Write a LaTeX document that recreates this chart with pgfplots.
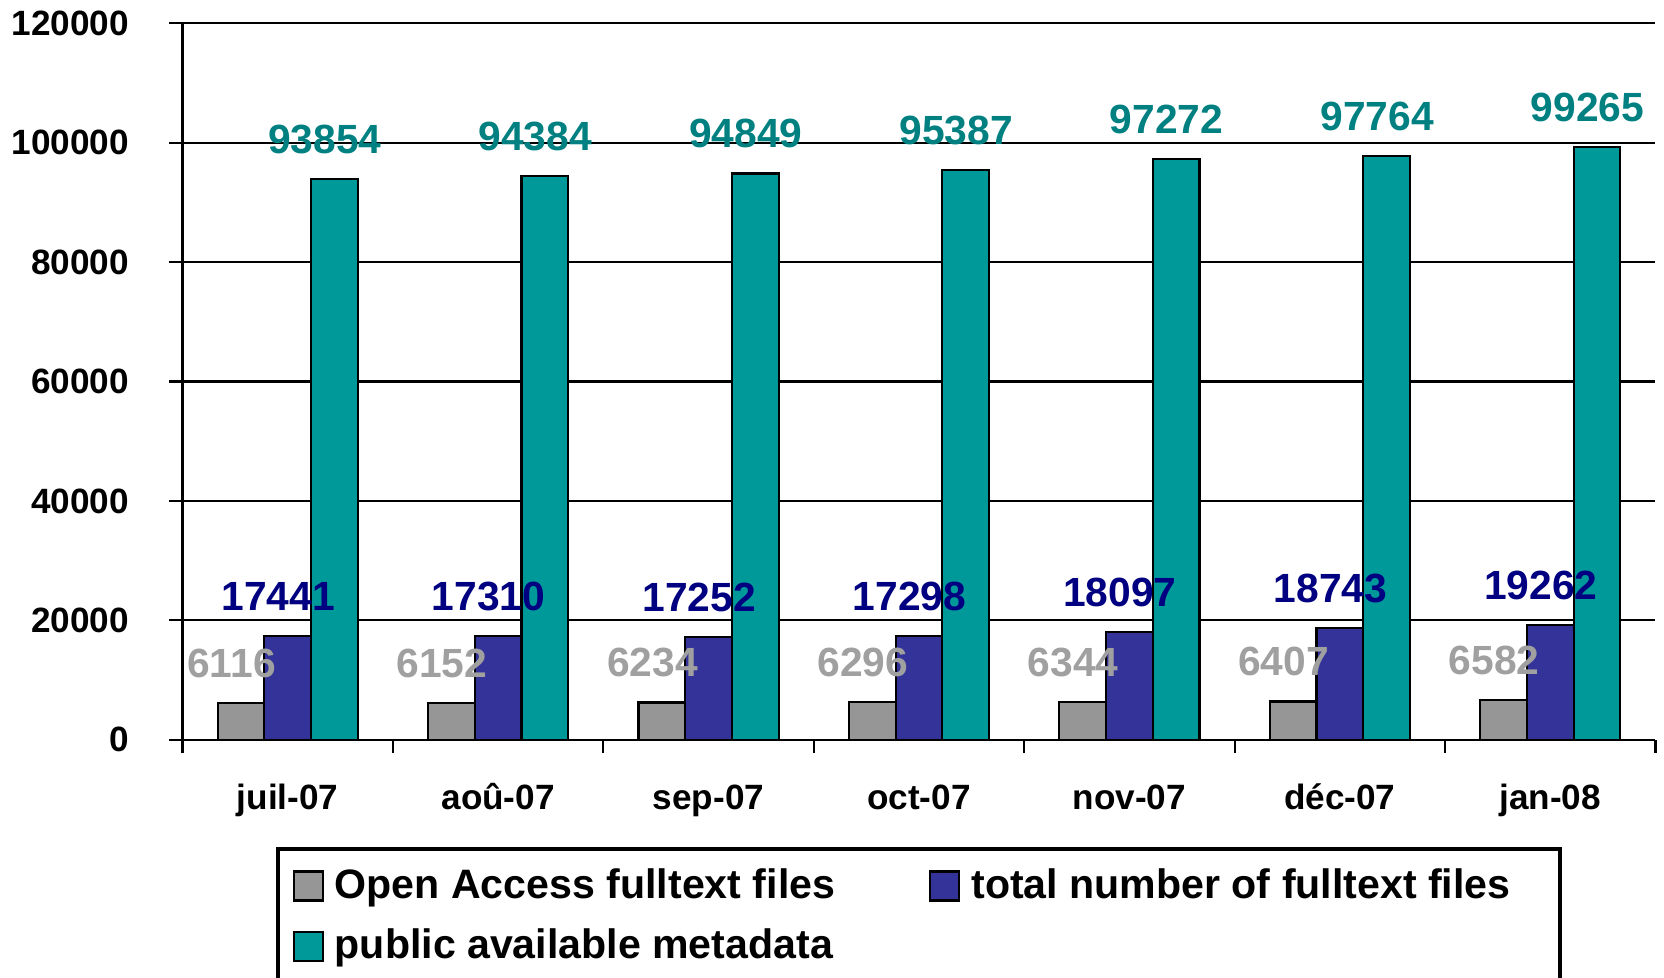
\documentclass[border=0pt]{standalone}
\usepackage{fontspec}
\setmainfont{Liberation Sans}
\usepackage{pgfplots}
\pgfplotsset{compat=1.18}
\definecolor{barGray}{HTML}{969696}
\definecolor{barBlue}{HTML}{333399}
\definecolor{barTeal}{HTML}{009999}
\definecolor{lblGray}{HTML}{A0A0A0}
\definecolor{lblBlue}{HTML}{000080}
\definecolor{lblTeal}{HTML}{008080}
\pgfplotsset{
  /pgf/number format/assume math mode=true,
  /pgf/number format/fixed,
  /pgf/number format/1000 sep={},
  myleg/.style={legend image code/.code={\draw[##1,draw=black,line width=0.6pt] (0cm,-0.145cm) rectangle (0.29cm,0.145cm); \path (0.33cm,0cm);}},
  lbl/.style 2 args={every node near coord/.append style={color=#1, font=\bfseries\fontsize{11.6}{13}\selectfont, anchor=south, inner sep=0pt, yshift=0.24cm, xshift=#2}},
}
\begin{document}
\begin{tikzpicture}
\useasboundingbox (0,0) rectangle (16.64cm,9.78cm);
\begin{axis}[
  at={(1.825cm,2.383cm)}, anchor=south west,
  width=14.73cm, height=7.164cm, scale only axis,
  xmin=-0.5, xmax=6.5, ymin=0, ymax=120000,
  clip=false,
  axis x line=bottom, axis y line=left,
  axis line style={-, line width=0.6pt, black},
  ytick={0,20000,40000,60000,80000,100000,120000},
  ymajorgrids, grid style={black, line width=0.6pt},
  xtick={-0.5,0.5,1.5,2.5,3.5,4.5,5.5,6.5},
  x tick label as interval,
  xticklabels={juil-07,aoû-07,sep-07,oct-07,nov-07,déc-07,jan-08},
  tick style={black, line width=0.6pt},
  major tick length=0.13cm, tick align=outside,
  scaled y ticks=false,
  yticklabel style={font=\bfseries\fontsize{10}{12}\selectfont, inner sep=0pt, xshift=-0.4cm, /pgf/number format/fixed, /pgf/number format/1000 sep={}},
  xticklabel style={font=\bfseries\fontsize{10}{12}\selectfont, inner sep=0pt, anchor=base, yshift=-0.567cm},
  nodes near coords,
  legend columns=2,
  legend cell align=left,
  legend style={at={(0.0743,-0.169)}, anchor=north west, draw=none, fill=none, inner sep=0pt,
    font=\bfseries\fontsize{11.7}{14}\selectfont, row sep=0.115cm,
    /tikz/every even column/.append style={column sep=0.87cm}},
]
\addplot[ybar, bar width=0.467cm, bar shift=-0.467cm, fill=barGray, draw=black, line width=0.6pt, lbl={lblGray}{-0.562cm}, myleg]
  coordinates {(0,6116)(1,6152)(2,6234)(3,6296)(4,6344)(5,6407)(6,6582)};
\addlegendentry{Open Access fulltext files}
\addplot[ybar, bar width=0.467cm, bar shift=0cm, fill=barBlue, draw=black, line width=0.6pt, lbl={lblBlue}{-0.095cm}, myleg]
  coordinates {(0,17441)(1,17310)(2,17252)(3,17298)(4,18097)(5,18743)(6,19262)};
\addlegendentry{total number of fulltext files}
\addplot[ybar, bar width=0.467cm, bar shift=0.467cm, fill=barTeal, draw=black, line width=0.6pt, lbl={lblTeal}{0.372cm}, myleg]
  coordinates {(0,93854)(1,94384)(2,94849)(3,95387)(4,97272)(5,97764)(6,99265)};
\addlegendentry{public available metadata}
\draw[black, line width=1pt] (rel axis cs:0.0648,-0.1526) rectangle (rel axis cs:0.935,-0.45);
\end{axis}
\end{tikzpicture}
\end{document}
